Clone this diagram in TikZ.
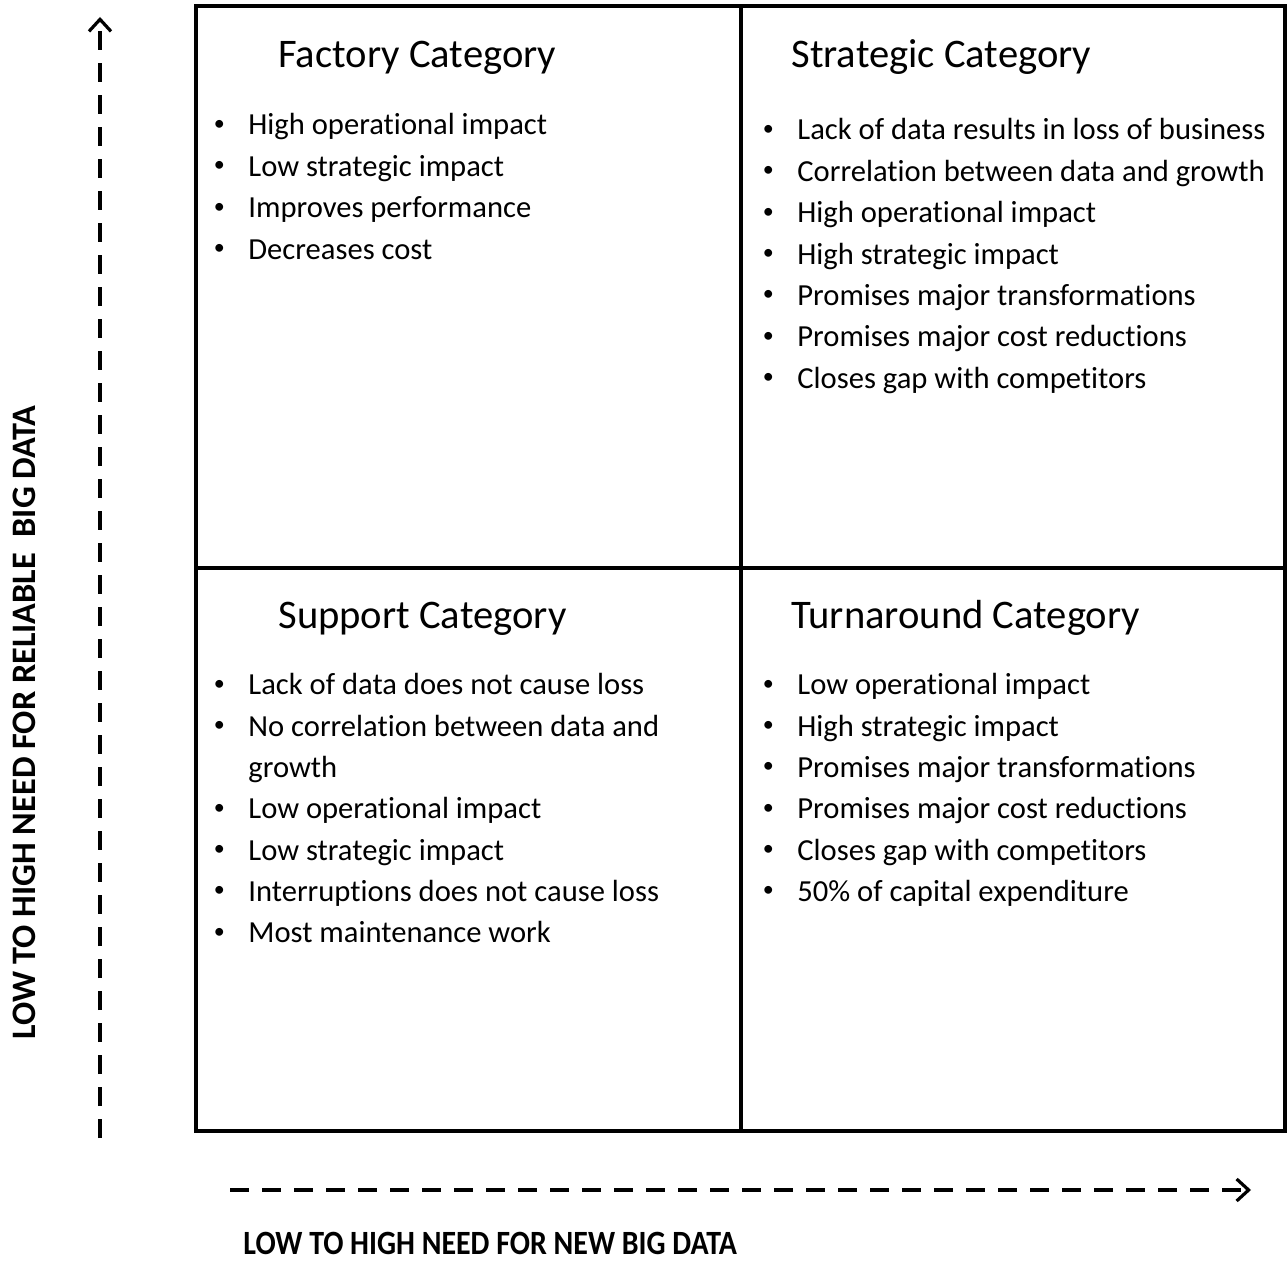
\documentclass[tikz,border=0pt]{standalone}
\usepackage{fontspec}
\usepackage{graphicx}
\setmainfont{Carlito}[Ligatures={NoCommon,NoContextual}]
\usetikzlibrary{arrows.meta}
\begin{document}
\begin{tikzpicture}[x=0.5pt,y=-0.5pt,
  frame/.style={line width=2pt},
  axisline/.style={line width=2.4pt,dash pattern=on 9.5pt off 6.5pt,
    -{Straight Barb[length=6pt,width=11pt,line width=1.6pt]}},
  heading/.style={anchor=base west,inner sep=0pt,font=\fontsize{20.3}{24}\selectfont},
  item/.style={anchor=base west,inner sep=0pt,font=\fontsize{15.3}{18}\selectfont},
  axislabel/.style={anchor=base west,inner sep=0pt}]
\useasboundingbox (0,0) rectangle (1287,1262);
\newcommand{\bulletmark}{\llap{\makebox[29pt][c]{\raisebox{2.3pt}{\scalebox{0.72}{•}}}}}

% quadrant grid
\draw[frame] (196,6) rectangle (1285,1131);
\draw[frame] (741,6) -- (741,1131);
\draw[frame] (196,568) -- (1285,568);

% headings
\node[heading] (hfac) at (278,68) {Factory Category};
\node[heading] (hstr) at (791,68) {Strategic Category};
\node[heading] (hsup) at (278,629) {Support Category};
\node[heading] (htur) at (791,629) {Turnaround Category};

% Factory
\foreach \t [count=\i] in {High operational impact,Low strategic impact,
  Improves performance,Decreases cost}
  \node[item] (fac\i) at (248,{135+41.4*(\i-1)}) {\bulletmark\t};

% Strategic
\foreach \t [count=\i] in {Lack of data results in loss of business,
  Correlation between data and growth,High operational impact,
  High strategic impact,Promises major transformations,
  Promises major cost reductions,Closes gap with competitors}
  \node[item] (str\i) at (797,{140+41.4*(\i-1)}) {\bulletmark\t};

% Support
\node[item] (sup1) at (248,695) {\bulletmark Lack of data does not cause loss};
\node[item] (sup2) at (248,736.3) {\bulletmark No correlation between data and};
\node[item] (sup3) at (248,777.6) {growth};
\foreach \t [count=\i] in {Low operational impact,Low strategic impact,
  Interruptions does not cause loss,Most maintenance work}
  \node[item] (supb\i) at (248,{818.9+41.3*(\i-1)}) {\bulletmark\t};

% Turnaround
\foreach \t [count=\i] in {Low operational impact,High strategic impact,
  Promises major transformations,Promises major cost reductions,
  Closes gap with competitors,50\% of capital expenditure}
  \node[item] (tur\i) at (797,{695+41.3*(\i-1)}) {\bulletmark\t};

% axes
\coordinate (ybot) at (100,1138);
\coordinate (ytop) at (100,17);
\coordinate (xleft) at (230,1190);
\coordinate (xright) at (1251,1190);
\draw[axisline] (ybot) -- (ytop);
\draw[axisline] (xleft) -- (xright);

\node[axislabel,rotate=90,font=\bfseries\fontsize{17.15}{20}\selectfont] (ylab) at (35,1040)
  {LOW TO HIGH NEED FOR RELIABLE\ \ BIG DATA};
\node[axislabel,font=\bfseries\fontsize{17}{20}\selectfont] (xlab) at (243,1254)
  {\scalebox{0.88}[1]{LOW TO HIGH NEED FOR NEW BIG DATA}};
\end{tikzpicture}
\end{document}
